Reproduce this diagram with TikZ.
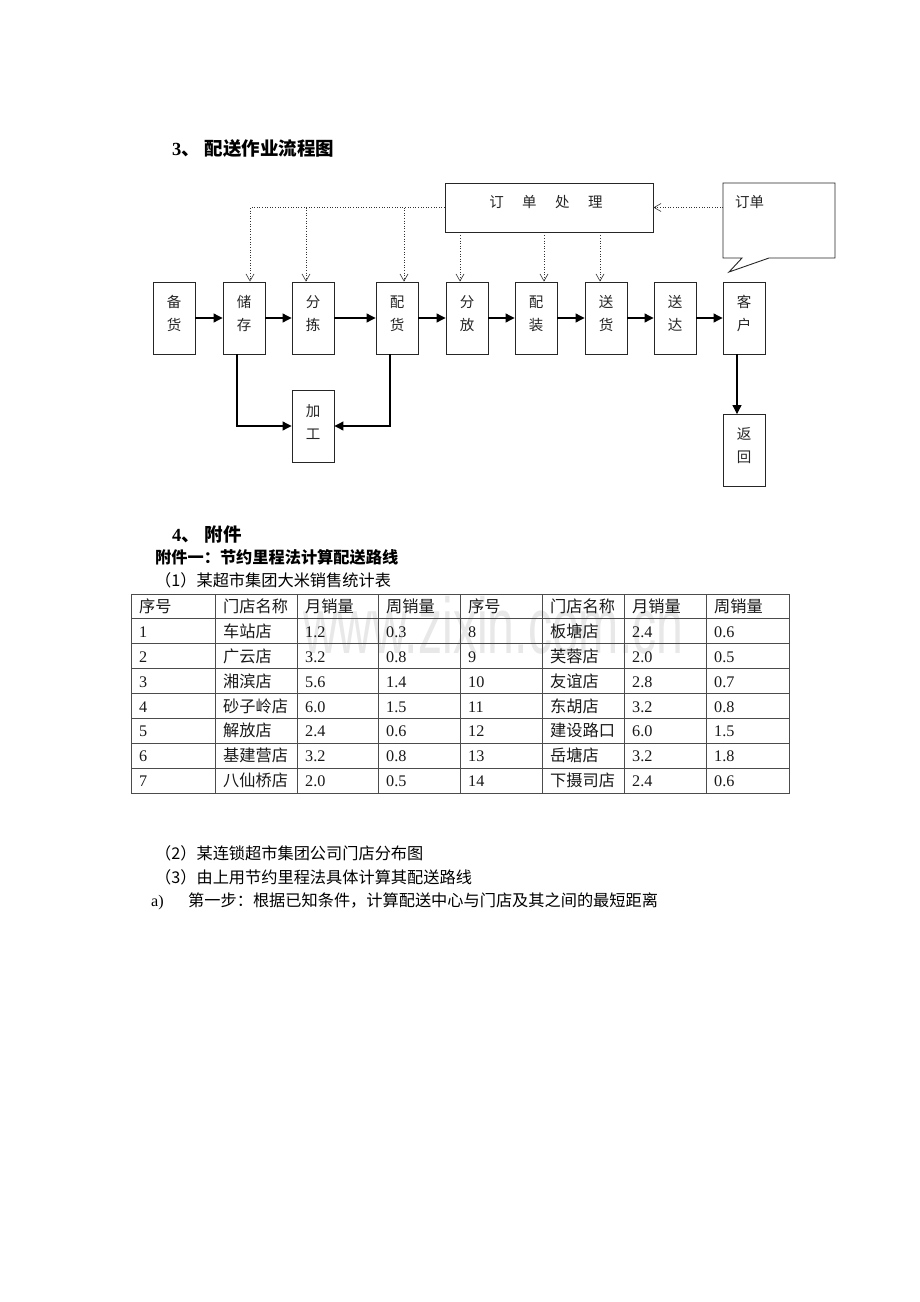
\documentclass[tikz,border=0pt]{standalone}
\usepackage{fontspec}
\setmainfont{Liberation Serif}
\newfontfamily\cjk{Noto Sans CJK SC}
\newfontfamily\wmfont{Liberation Sans}
\usetikzlibrary{arrows.meta}
\begin{document}
\begin{tikzpicture}[x=1pt,y=-1pt,
  box/.style={draw=black!85,line width=0.9pt,minimum width=42pt,minimum height=72pt,inner sep=0pt},
  btext/.style={align=center,font=\cjk\fontsize{14.5}{23}\selectfont,inner sep=0pt,text=black!85},
  solidarrow/.style={line width=1.1pt,-{Triangle[length=9pt,width=9pt]}},
  dotarrow/.style={dotted,line width=0.6pt,black!80,-{Straight Barb[length=7pt,width=8pt]}},
  body/.style={anchor=base west,inner sep=0pt,font=\fontsize{16.2}{18}\selectfont},
  cell/.style={anchor=base west,inner sep=0pt,font=\fontsize{16.2}{18}\selectfont,text=black!90},
  tline/.style={draw=black!70,line width=0.8pt}
]
\fill[white] (0,0) rectangle (920,1302);
\useasboundingbox (0,0) rectangle (920,1302);

% ---------- headings ----------
\node[anchor=base west,inner sep=0pt,font=\fontsize{18.5}{20}\selectfont\bfseries] (h3) at (172,155) {3{\cjk\bfseries 、\hspace{5pt}配送作业流程图}};

% ---------- flow chart ----------
\foreach \n/\xx/\p/\q in {bh/174/备/货, cc/244/储/存, fj/313/分/拣, ph/397/配/货, ff/467/分/放, pz/536/配/装, sh/606/送/货, sd/675/送/达, kh/744/客/户}{
  \node[box] (\n) at (\xx,318) {};
  \node[btext] (\n-t) at (\xx,313.5) {\p\\\q};
}
\node[box] (jg) at (313,426) {};
\node[btext] (jg-t) at (313,422) {加\\工};
\node[box] (fh) at (744,450.5) {};
\node[btext] (fh-t) at (744,445.5) {返\\回};

\draw[solidarrow] (bh) -- (cc);
\draw[solidarrow] (cc) -- (fj);
\draw[solidarrow] (fj) -- (ph);
\draw[solidarrow] (ph) -- (ff);
\draw[solidarrow] (ff) -- (pz);
\draw[solidarrow] (pz) -- (sh);
\draw[solidarrow] (sh) -- (sd);
\draw[solidarrow] (sd) -- (kh);
\draw[solidarrow] ([xshift=-7pt]cc.south) |- (jg.west);
\draw[solidarrow] ([xshift=-7pt]ph.south) |- (jg.east);
\draw[solidarrow] ([xshift=-7pt]kh.south) -- ([xshift=-7pt]fh.north);

% order processing box
\node[draw=black!85,line width=0.9pt,minimum width=208pt,minimum height=49pt,inner sep=0pt] (dd) at (549,207.5) {};
\node[inner sep=0pt,font=\cjk\fontsize{14.5}{16}\selectfont,text=black!85] (dd-t) at (546,202) {订\hspace{18.5pt}单\hspace{18.5pt}处\hspace{18.5pt}理};

% callout
\draw[draw=black!85,line width=0.9pt] (723,183) -- (835,183) -- (835,258) -- (769,258) -- (729,272) -- (742,258) -- (723,258) -- cycle;
\node[anchor=base west,inner sep=0pt,font=\cjk\fontsize{14.5}{16}\selectfont,text=black!85] (kd) at (735,207.3) {订单};
\coordinate (kdw) at (723,207.5);

% dotted connectors
\coordinate (d1) at ([xshift=6pt]cc.north);
\coordinate (d2) at ([xshift=-7pt]fj.north);
\coordinate (d3) at ([xshift=7pt]ph.north);
\coordinate (d4) at ([xshift=-7pt]ff.north);
\coordinate (d5) at ([xshift=8pt]pz.north);
\coordinate (d6) at ([xshift=-6pt]sh.north);
\draw[dotarrow] (dd.west) -| (d1);
\draw[dotarrow] (d2 |- dd.west) -- (d2);
\draw[dotarrow] (d3 |- dd.west) -- (d3);
\draw[dotarrow,shorten <=3pt] (d4 |- dd.south) -- (d4);
\draw[dotarrow,shorten <=3pt] (d5 |- dd.south) -- (d5);
\draw[dotarrow,shorten <=3pt] (d6 |- dd.south) -- (d6);
\draw[dotarrow] (kdw) -- (dd.east);

% ---------- section 4 ----------
\node[anchor=base west,inner sep=0pt,font=\fontsize{18.5}{20}\selectfont\bfseries] (h4) at (172,541) {4{\cjk\bfseries 、\hspace{5pt}附件}};
\node[body,font=\cjk\bfseries\fontsize{16.2}{18}\selectfont] (fj1) at (155,563.2) {附件一：节约里程法计算配送路线};
\node[body,font=\cjk\fontsize{16.2}{18}\selectfont] (t1) at (155,586.2) {（1）某超市集团大米销售统计表};

% watermark
\node[anchor=base west,inner sep=0pt,text=black!9,font=\wmfont\fontsize{79}{80}\selectfont,xscale=0.61] (wm) at (303,653) {www.zixin.com.cn};

% ---------- table ----------
\draw[tline] (131,594) rectangle (789,793);
\foreach \i in {1,...,7}{ \draw[tline] (131,594+24.875*\i) -- (789,594+24.875*\i); }
\foreach \xx in {215,297,378,460,542,624,706}{ \draw[tline] (\xx,594) -- (\xx,793); }

\foreach \t [count=\k from 0] in {序号,门店名称,月销量,周销量,序号,门店名称,月销量,周销量}{
  \pgfmathsetmacro{\cx}{{131,215,297,378,460,542,624,706}[\k]+8}
  \node[cell,font=\cjk\fontsize{16.2}{18}\selectfont] (c0-\k) at (\cx,606.4+6.2) {\t};
}
\foreach \a/\b/\c/\d/\e/\f/\g/\h [count=\r] in {
  1/车站店/1.2/0.3/8/板塘店/2.4/0.6,
  2/广云店/3.2/0.8/9/芙蓉店/2.0/0.5,
  3/湘滨店/5.6/1.4/10/友谊店/2.8/0.7,
  4/砂子岭店/6.0/1.5/11/东胡店/3.2/0.8,
  5/解放店/2.4/0.6/12/建设路口/6.0/1.5,
  6/基建营店/3.2/0.8/13/岳塘店/3.2/1.8,
  7/八仙桥店/2.0/0.5/14/下摄司店/2.4/0.6}{
  \pgfmathsetmacro{\yy}{606.4+24.875*\r+6.2}
  \node[cell] (c\r-0) at (139,\yy) {\a};
  \node[cell,font=\cjk\fontsize{16.2}{18}\selectfont] (c\r-1) at (223,\yy) {\b};
  \node[cell] (c\r-2) at (305,\yy) {\c};
  \node[cell] (c\r-3) at (386,\yy) {\d};
  \node[cell] (c\r-4) at (468,\yy) {\e};
  \node[cell,font=\cjk\fontsize{16.2}{18}\selectfont] (c\r-5) at (550,\yy) {\f};
  \node[cell] (c\r-6) at (632,\yy) {\g};
  \node[cell] (c\r-7) at (714,\yy) {\h};
}

% ---------- lines below ----------
\node[body,font=\cjk\fontsize{16.2}{18}\selectfont] (t2) at (155,859.2) {（2）某连锁超市集团公司门店分布图};
\node[body,font=\cjk\fontsize{16.2}{18}\selectfont] (t3) at (155,883.2) {（3）由上用节约里程法具体计算其配送路线};
\node[body] (ta) at (151,906.2) {a)};
\node[body,font=\cjk\fontsize{16.2}{18}\selectfont] (tb) at (188,906.2) {第一步：根据已知条件，计算配送中心与门店及其之间的最短距离};
\end{tikzpicture}
\end{document}
